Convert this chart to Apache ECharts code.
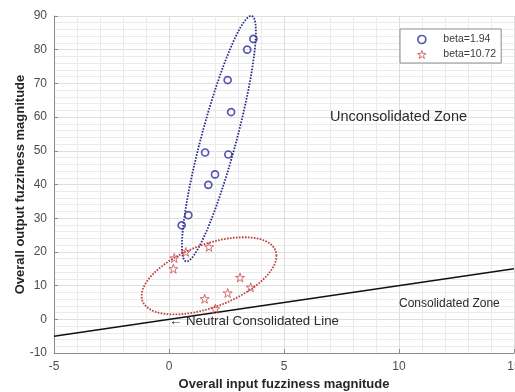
<!DOCTYPE html>
<html>
<head>
<meta charset="utf-8">
<script src="https://cdn.jsdelivr.net/npm/echarts@6/dist/echarts.min.js"></script>
<style>
  html, body { margin: 0; padding: 0; background: #fff; }
  #chart { width: 515px; height: 392px; }
</style>
</head>
<body>
<div id="chart"></div>
<script>
// Overall input vs. output fuzziness magnitude for two beta settings
const beta194X  = [3.67, 3.40, 2.55, 2.70, 1.57, 2.58, 2.00, 1.71, 0.55, 0.84];
const beta194Y  = [83.2, 80.0, 71.0, 61.5, 49.5, 48.9, 43.0, 39.9, 27.9, 30.9];
const beta1072X = [1.74, 0.23, 0.73, 0.19, 3.09, 3.55, 2.55, 1.55, 2.01];
const beta1072Y = [21.5, 18.2, 20.0, 15.0, 12.4, 9.5, 7.8, 6.1, 3.1];

// Neutral consolidated line y = x across the x range
const neutralX = [-5, 15];
const neutralY = [-5, 15];

// Cluster ellipses: centre, semi-axis vector u, conjugate semi-axis vector v (data units)
const ellipseBlue = [2.17, 53.6, 1.43, 36.4, 0.735, -1.34];
const ellipseRed  = [1.74, 12.9, 2.93, 5.93, 0.0, 9.8];

// Axis ranges and tick spacing
const xRange = [-5, 15], xStep = 5;
const yRange = [-10, 90], yStep = 10;

// Text annotations placed in data coordinates
const noteText = ['\u2190 Neutral Consolidated Line', 'Unconsolidated Zone', 'Consolidated Zone'];
const noteX = [0, 7, 10];
const noteY = [-0.6, 60, 4.5];
const noteSize = [13.3, 14.5, 12];

const seriesNames = ['beta=1.94', 'beta=10.72'];
const BLUE = '#2e2e9c';
const RED = '#c94a4a';
const FONT = '"Liberation Sans", Arial, Helvetica, sans-serif';

const starPath = 'path://M0,-10L2.245,-3.09L9.51,-3.09L3.63,1.18L5.88,8.09L0,3.82L-5.88,8.09L-3.63,1.18L-9.51,-3.09L-2.245,-3.09Z';

const zip = (xs, ys) => xs.map((x, i) => [x, ys[i]]);

const chart = echarts.init(document.getElementById('chart'), null, { renderer: 'canvas' });

const axisCommon = {
  type: 'value',
  axisLine: { show: true, onZero: false, lineStyle: { color: '#8a8a8a', width: 1 } },
  axisTick: { show: true, inside: true, length: 4, lineStyle: { color: '#8a8a8a' } },
  splitLine: { show: true, lineStyle: { color: '#dedede', width: 1 } },
  minorTick: { show: false, splitNumber: 5 },
  minorSplitLine: { show: true, lineStyle: { color: '#ebebeb', width: 1 } },
  nameLocation: 'middle',
  nameMoveOverlap: false,
  nameTextStyle: { fontWeight: 'bold', fontSize: 13, color: '#262626', fontFamily: FONT }
};

chart.setOption({
  animation: false,
  backgroundColor: '#ffffff',
  textStyle: { fontFamily: FONT },
  grid: { left: 54, right: 1, top: 16, bottom: 39, containLabel: false, outerBoundsMode: 'none' },
  legend: {
    orient: 'vertical',
    left: 400, top: 29,
    padding: [5, 5, 3, 17],
    itemWidth: 33, itemHeight: 8, itemGap: 4,
    symbolKeepAspect: true,
    borderColor: '#8c8c8c', borderWidth: 1, borderRadius: 0,
    backgroundColor: '#ffffff',
    textStyle: { fontSize: 10.5, color: '#3a3a3a', fontFamily: FONT },
    data: [
      { name: seriesNames[0], icon: 'circle',
        itemStyle: { color: 'rgba(255,255,255,0)', borderColor: BLUE, borderWidth: 1.7 } },
      { name: seriesNames[1], icon: starPath,
        itemStyle: { color: 'rgba(255,255,255,0)', borderColor: RED, borderWidth: 1 } }
    ]
  },
  xAxis: Object.assign({}, axisCommon, {
    min: xRange[0], max: xRange[1], interval: xStep,
    name: 'Overall input fuzziness magnitude',
    nameGap: 25,
    axisLabel: { color: '#4d4d4d', fontSize: 12, margin: 8, fontFamily: FONT }
  }),
  yAxis: Object.assign({}, axisCommon, {
    min: yRange[0], max: yRange[1], interval: yStep,
    name: 'Overall output fuzziness magnitude',
    nameGap: 27,
    axisLabel: { color: '#4d4d4d', fontSize: 12, margin: 7, fontFamily: FONT }
  }),
  series: [
    {
      // dotted cluster ellipses
      type: 'custom',
      silent: true,
      z: 2,
      encode: { x: 0, y: 1 },
      data: [ellipseBlue, ellipseRed],
      renderItem: function (params, api) {
        const cx = api.value(0), cy = api.value(1);
        const ux = api.value(2), uy = api.value(3);
        const vx = api.value(4), vy = api.value(5);
        const pts = [];
        for (let k = 0; k <= 240; k++) {
          const t = 2 * Math.PI * k / 240;
          pts.push(api.coord([cx + ux * Math.cos(t) + vx * Math.sin(t),
                              cy + uy * Math.cos(t) + vy * Math.sin(t)]));
        }
        return {
          type: 'polyline',
          shape: { points: pts },
          style: {
            stroke: params.dataIndex === 0 ? '#2a2a8c' : '#c23a3a',
            lineWidth: 1.8,
            lineDash: [1.6, 1.4],
            fill: null
          }
        };
      }
    },
    {
      type: 'line',
      name: 'neutral',
      data: zip(neutralX, neutralY),
      symbol: 'none',
      silent: true,
      z: 3,
      lineStyle: { color: '#111111', width: 1.5 }
    },
    {
      type: 'scatter',
      name: seriesNames[0],
      data: zip(beta194X, beta194Y),
      symbol: 'circle',
      symbolSize: 7,
      z: 5,
      itemStyle: { color: 'rgba(255,255,255,0)', borderColor: BLUE, borderWidth: 1.7 }
    },
    {
      type: 'scatter',
      name: seriesNames[1],
      data: zip(beta1072X, beta1072Y),
      symbol: starPath,
      symbolSize: 9,
      z: 5,
      itemStyle: { color: 'rgba(255,255,255,0)', borderColor: RED, borderWidth: 1 }
    },
    {
      // text annotations
      type: 'custom',
      silent: true,
      z: 6,
      encode: { x: 0, y: 1 },
      data: zip(noteX, noteY),
      renderItem: function (params, api) {
        const p = api.coord([api.value(0), api.value(1)]);
        const i = params.dataIndex;
        return {
          type: 'text',
          x: p[0], y: p[1],
          style: {
            text: noteText[i],
            fontSize: noteSize[i],
            fontFamily: FONT,
            fill: '#2b2b2b',
            align: 'left',
            verticalAlign: 'middle'
          }
        };
      }
    }
  ]
});
</script>
</body>
</html>
